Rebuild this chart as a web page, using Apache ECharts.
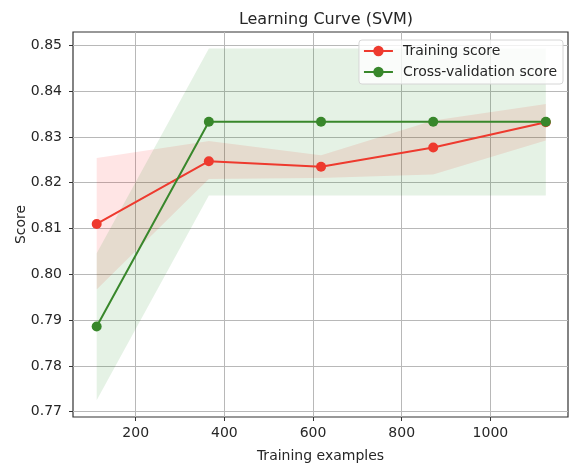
<!DOCTYPE html>
<html><head><meta charset="utf-8">
<script src="https://cdn.jsdelivr.net/npm/echarts@6/dist/echarts.min.js"></script>
<style>html,body{margin:0;padding:0;background:#fff}#c{width:569px;height:468px}</style>
</head><body><div id="c"></div>
<script>
var trainSizes = [112, 365, 618, 871, 1125];
var trainMean = [0.8110, 0.8247, 0.8235, 0.8277, 0.8332];
var trainUpper = [0.8254, 0.8291, 0.8260, 0.8336, 0.8372];
var trainLower = [0.7967, 0.8208, 0.8210, 0.8218, 0.8292];
var cvMean = [0.7886, 0.8333, 0.8333, 0.8333, 0.8333];
var cvUpper = [0.8046, 0.8493, 0.8493, 0.8493, 0.8493];
var cvLower = [0.7725, 0.8172, 0.8172, 0.8172, 0.8172];
var xTicks = [200, 400, 600, 800, 1000];
var yTicks = [0.77, 0.78, 0.79, 0.80, 0.81, 0.82, 0.83, 0.84, 0.85];

var RED = '#ee3a2e', GREEN = '#38872b';
var FONT = 'DejaVu Sans';

function band(upper, lower, fill) {
  return {
    type: 'custom', silent: true, z: 1,
    data: [[trainSizes[0], upper[0]]],
    renderItem: function (params, api) {
      var pts = [];
      for (var i = 0; i < trainSizes.length; i++) pts.push(api.coord([trainSizes[i], upper[i]]));
      for (var j = trainSizes.length - 1; j >= 0; j--) pts.push(api.coord([trainSizes[j], lower[j]]));
      return { type: 'polygon', shape: { points: pts }, style: { fill: fill, stroke: null } };
    }
  };
}
function zip(a, b) { return a.map(function (v, i) { return [v, b[i]]; }); }

var chart = echarts.init(document.getElementById('c'), null, { renderer: 'canvas' });
chart.setOption({
  animation: false,
  textStyle: { fontFamily: FONT },
  title: {
    text: 'Learning Curve (SVM)', left: 321, top: 7, textAlign: 'center',
    textStyle: { fontFamily: FONT, fontSize: 16, fontWeight: 'normal', color: '#262626' }
  },
  grid: { left: 73, right: 1, top: 32, bottom: 46, show: true, borderColor: '#333', borderWidth: 1.2, backgroundColor: 'transparent' },
  legend: {
    right: 6, top: 40, orient: 'vertical', itemGap: 7, itemWidth: 29, itemHeight: 13,
    padding: [4, 6, 5, 4],
    borderColor: '#d6d6d6', borderWidth: 1, borderRadius: 3, backgroundColor: 'rgba(255,255,255,0.8)',
    textStyle: { fontFamily: FONT, fontSize: 14, color: '#262626', padding: [0, 0, 0, 5] },
    data: ['Training score', 'Cross-validation score']
  },
  xAxis: {
    type: 'value', min: 58.6, max: 1175,
    name: 'Training examples', nameLocation: 'middle', nameGap: 32, nameMoveOverlap: false,
    nameTextStyle: { fontFamily: FONT, fontSize: 14, color: '#262626' },
    axisLine: { show: false },
    axisTick: { show: true, length: 4, customValues: xTicks, lineStyle: { color: '#333' } },
    axisLabel: { customValues: xTicks, margin: 9, fontFamily: FONT, fontSize: 14, color: '#262626',
      formatter: function (v) { return String(v); } },
    splitLine: { show: true, lineStyle: { color: '#b8b8b8', width: 1 } }
  },
  yAxis: {
    type: 'value', min: 0.76885, max: 0.8529,
    name: 'Score', nameLocation: 'middle', nameGap: 45, nameRotate: 90, nameMoveOverlap: false,
    nameTextStyle: { fontFamily: FONT, fontSize: 14, color: '#262626' },
    axisLine: { show: false },
    axisTick: { show: true, length: 4, customValues: yTicks, lineStyle: { color: '#333' } },
    axisLabel: { customValues: yTicks, margin: 11, fontFamily: FONT, fontSize: 14, color: '#262626',
      formatter: function (v) { return v.toFixed(2); } },
    splitLine: { show: true, lineStyle: { color: '#b8b8b8', width: 1 } }
  },
  series: [
    band(trainUpper, trainLower, 'rgba(255,0,0,0.1)'),
    band(cvUpper, cvLower, 'rgba(0,128,0,0.1)'),
    {
      name: 'Training score', type: 'line', z: 3, data: zip(trainSizes, trainMean),
      symbol: 'circle', symbolSize: 10, color: RED,
      lineStyle: { width: 2, color: RED }, itemStyle: { color: RED }
    },
    {
      name: 'Cross-validation score', type: 'line', z: 3, data: zip(trainSizes, cvMean),
      symbol: 'circle', symbolSize: 10, color: GREEN,
      lineStyle: { width: 2, color: GREEN }, itemStyle: { color: GREEN }
    }
  ]
});
</script></body></html>
